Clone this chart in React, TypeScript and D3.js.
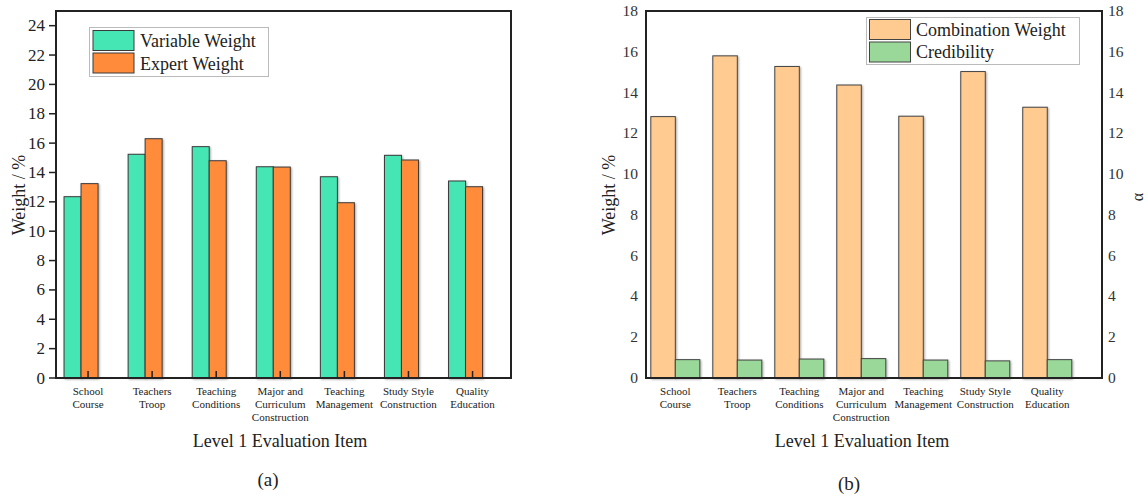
import React, { ReactElement, useEffect, useRef } from "react";
import * as d3 from "d3";

// categories (two-line labels, some three)
const categories = [
  ["School", "Course"],
  ["Teachers", "Troop"],
  ["Teaching", "Conditions"],
  ["Major and", "Curriculum", "Construction"],
  ["Teaching", "Management"],
  ["Study Style", "Construction"],
  ["Quality", "Education"],
];

// panel (a)
const variableWeight = [12.35, 15.24, 15.76, 14.39, 13.71, 15.17, 13.42];
const expertWeight = [13.24, 16.3, 14.8, 14.37, 11.94, 14.85, 13.03];
const ticksA = [0, 2, 4, 6, 8, 10, 12, 14, 16, 18, 20, 22, 24];

// panel (b)
const combinationWeight = [12.82, 15.8, 15.28, 14.37, 12.84, 15.03, 13.28];
const credibility = [0.9, 0.88, 0.93, 0.95, 0.88, 0.84, 0.9];
const ticksB = [0, 2, 4, 6, 8, 10, 12, 14, 16, 18];

const FONT = "'Liberation Serif', 'DejaVu Serif', serif";

function App(): ReactElement {
  const ref = useRef<SVGSVGElement>(null);

  useEffect(() => {
    drawChart();
  });

  const drawChart = () => {
    const svg = d3.select(ref.current);
    svg.selectAll("*").remove();

    const defs = svg.append("defs");
    const f = defs.append("filter").attr("id", "sh").attr("x", "-20%").attr("y", "-20%").attr("width", "140%").attr("height", "140%");
    f.append("feGaussianBlur").attr("in", "SourceAlpha").attr("stdDeviation", 0.8).attr("result", "b");
    f.append("feOffset").attr("dx", 0.5).attr("dy", 0.5).attr("result", "o");
    f.append("feComponentTransfer").append("feFuncA").attr("type", "linear").attr("slope", 0.35);
    const fm = f.append("feMerge");
    fm.append("feMergeNode");
    fm.append("feMergeNode").attr("in", "SourceGraphic");

    // ---------- panel (a) ----------
    const xa = d3.scaleLinear().domain([0.5, 7.6]).range([56, 511]);
    const ya = d3.scaleLinear().domain([0, 25]).range([378, 11]);
    const bwA = 17;
    const ga = svg.append("g").style("font-family", FONT);

    const barsA = [
      { vals: variableWeight, fill: "#45e6b4", off: -24 },
      { vals: expertWeight, fill: "#ff8b3b", off: -7 },
    ];
    barsA.forEach((s) => {
      ga.selectAll(null)
        .data(s.vals)
        .enter()
        .append("rect")
        .attr("x", (_, i) => xa(i + 1) + s.off)
        .attr("y", (d) => ya(d))
        .attr("width", bwA)
        .attr("height", (d) => ya(0) - ya(d))
        .attr("fill", s.fill)
        .attr("stroke", "#3a3a3a")
        .attr("stroke-width", 1)
        .attr("filter", "url(#sh)");
    });

    // frame
    ga.append("rect")
      .attr("x", 56)
      .attr("y", 11)
      .attr("width", 455)
      .attr("height", 367)
      .attr("fill", "none")
      .attr("stroke", "#222")
      .attr("stroke-width", 2);

    // y ticks outward
    ga.selectAll(null)
      .data(ticksA)
      .enter()
      .append("line")
      .attr("x1", 49)
      .attr("x2", 56)
      .attr("y1", (d) => ya(d))
      .attr("y2", (d) => ya(d))
      .attr("stroke", "#222")
      .attr("stroke-width", 1.5);
    ga.selectAll(null)
      .data(ticksA)
      .enter()
      .append("text")
      .attr("x", 45)
      .attr("y", (d) => ya(d) + 5.5)
      .attr("text-anchor", "end")
      .attr("font-size", 17)
      .attr("fill", "#222")
      .text((d) => d);

    // x ticks inward
    ga.selectAll(null)
      .data(categories)
      .enter()
      .append("line")
      .attr("x1", (_, i) => xa(i + 1))
      .attr("x2", (_, i) => xa(i + 1))
      .attr("y1", 371)
      .attr("y2", 378)
      .attr("stroke", "#222")
      .attr("stroke-width", 1.5);

    const drawCatLabels = (g: d3.Selection<SVGGElement, unknown, null, undefined>, x: (v: number) => number) => {
      categories.forEach((lines, i) => {
        const t = g
          .append("text")
          .attr("text-anchor", "middle")
          .attr("font-size", 11)
          .attr("fill", "#222");
        lines.forEach((l, j) => {
          t.append("tspan").attr("x", x(i + 1)).attr("y", 395 + j * 12.8).text(l);
        });
      });
    };
    drawCatLabels(ga, xa);

    ga.append("text")
      .attr("transform", "translate(25,195) rotate(-90)")
      .attr("text-anchor", "middle")
      .attr("font-size", 18)
      .attr("fill", "#222")
      .text("Weight / %");
    ga.append("text")
      .attr("x", 280)
      .attr("y", 447)
      .attr("text-anchor", "middle")
      .attr("font-size", 18)
      .attr("fill", "#222")
      .text("Level 1 Evaluation Item");
    ga.append("text")
      .attr("x", 268)
      .attr("y", 486)
      .attr("text-anchor", "middle")
      .attr("font-size", 19)
      .attr("fill", "#222")
      .text("(a)");

    // legend (a)
    const la = ga.append("g");
    la.append("rect")
      .attr("x", 89.5)
      .attr("y", 27.5)
      .attr("width", 179)
      .attr("height", 49)
      .attr("fill", "#fff")
      .attr("stroke", "#bbb")
      .attr("stroke-width", 1);
    barsA.forEach((s, i) => {
      la.append("rect")
        .attr("x", 93)
        .attr("y", 30.5 + i * 22.5)
        .attr("width", 41)
        .attr("height", 20)
        .attr("fill", s.fill)
        .attr("stroke", "#3a3a3a");
      la.append("text")
        .attr("x", 140)
        .attr("y", 47 + i * 22.5)
        .attr("font-size", 18)
        .attr("fill", "#222")
        .text(i === 0 ? "Variable Weight" : "Expert Weight");
    });

    // ---------- panel (b) ----------
    const xb = d3.scaleLinear().domain([0.527, 7.883]).range([646, 1102]);
    const yb = d3.scaleLinear().domain([0, 18]).range([378, 11]);
    const bwB = 24.5;
    const gb = svg.append("g").style("font-family", FONT);

    const barsB = [
      { vals: combinationWeight, fill: "#ffcb91", off: -bwB },
      { vals: credibility, fill: "#9ad899", off: 0 },
    ];
    barsB.forEach((s) => {
      gb.selectAll(null)
        .data(s.vals)
        .enter()
        .append("rect")
        .attr("x", (_, i) => xb(i + 1) + s.off)
        .attr("y", (d) => yb(d))
        .attr("width", bwB)
        .attr("height", (d) => yb(0) - yb(d))
        .attr("fill", s.fill)
        .attr("stroke", "#444")
        .attr("stroke-width", 1)
        .attr("filter", "url(#sh)");
    });

    gb.append("rect")
      .attr("x", 646)
      .attr("y", 11)
      .attr("width", 456)
      .attr("height", 367)
      .attr("fill", "none")
      .attr("stroke", "#222")
      .attr("stroke-width", 2);

    gb.selectAll(null)
      .data(ticksB)
      .enter()
      .append("text")
      .attr("x", 638)
      .attr("y", (d) => yb(d) + 5)
      .attr("text-anchor", "end")
      .attr("font-size", 15.5)
      .attr("fill", "#333")
      .text((d) => d);
    gb.selectAll(null)
      .data(ticksB)
      .enter()
      .append("text")
      .attr("x", 1108)
      .attr("y", (d) => yb(d) + 5)
      .attr("text-anchor", "start")
      .attr("font-size", 15.5)
      .attr("fill", "#333")
      .text((d) => d);

    drawCatLabels(gb, xb);

    gb.append("text")
      .attr("transform", "translate(615,195) rotate(-90)")
      .attr("text-anchor", "middle")
      .attr("font-size", 18)
      .attr("fill", "#222")
      .text("Weight / %");
    gb.append("text")
      .attr("transform", "translate(1143,197) rotate(-90)")
      .attr("text-anchor", "middle")
      .attr("font-size", 16)
      .attr("fill", "#222")
      .text("α");
    gb.append("text")
      .attr("x", 862)
      .attr("y", 447)
      .attr("text-anchor", "middle")
      .attr("font-size", 18)
      .attr("fill", "#222")
      .text("Level 1 Evaluation Item");
    gb.append("text")
      .attr("x", 849)
      .attr("y", 490)
      .attr("text-anchor", "middle")
      .attr("font-size", 19)
      .attr("fill", "#222")
      .text("(b)");

    const lb = gb.append("g");
    lb.append("rect")
      .attr("x", 866.5)
      .attr("y", 17.5)
      .attr("width", 213)
      .attr("height", 47)
      .attr("fill", "#fff")
      .attr("stroke", "#bbb")
      .attr("stroke-width", 1);
    barsB.forEach((s, i) => {
      lb.append("rect")
        .attr("x", 869.5)
        .attr("y", 19.5 + i * 22.5)
        .attr("width", 41)
        .attr("height", 20)
        .attr("fill", s.fill)
        .attr("stroke", "#444");
      lb.append("text")
        .attr("x", 916)
        .attr("y", 35.5 + i * 22.5)
        .attr("font-size", 18)
        .attr("fill", "#222")
        .text(i === 0 ? "Combination Weight" : "Credibility");
    });
  };

  return (
    <svg
      ref={ref}
      width={1148}
      height={496}
      style={{ position: "absolute", left: 0, top: 0, background: "#fff" }}
    ></svg>
  );
}

export default App;
